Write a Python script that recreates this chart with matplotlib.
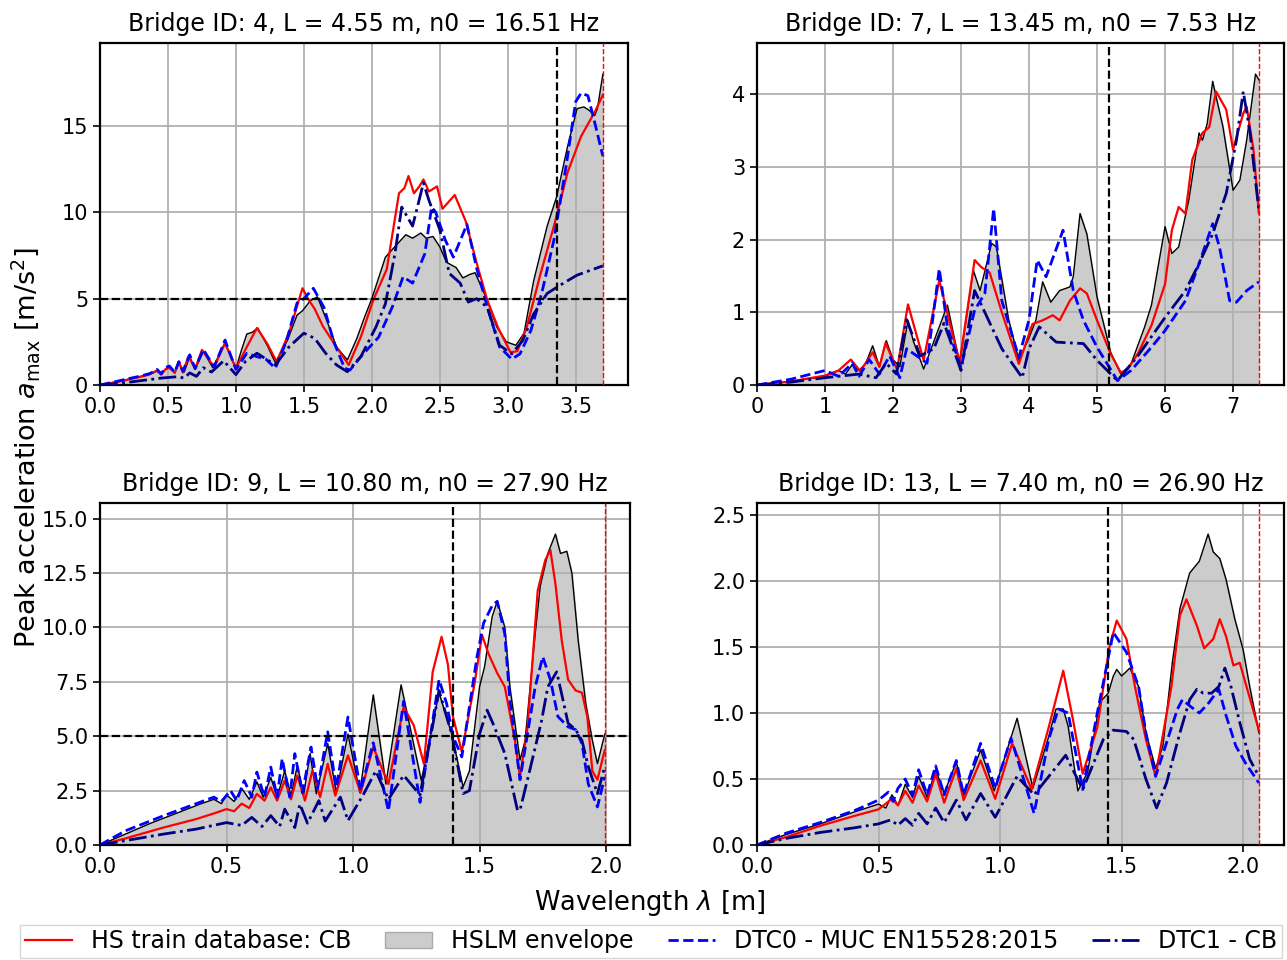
import matplotlib
matplotlib.use('Agg')
import matplotlib.pyplot as plt
from matplotlib.ticker import MultipleLocator
from matplotlib.lines import Line2D
from matplotlib.patches import Patch

plt.rcParams['font.family'] = 'DejaVu Sans'

# ---- Bridge 4 ----
b4_title = 'Bridge ID: 4, L = 4.55 m, n0 = 16.51 Hz'
b4_lam_ref, b4_lam_max = 3.36, 3.70
b4_env_x = [0, 0.1, 0.2, 0.3, 0.36, 0.39, 0.42, 0.45, 0.48, 0.51, 0.55, 0.58, 0.62, 0.66, 0.70, 0.76,
            0.83, 0.92, 1.0, 1.04, 1.08, 1.12, 1.16, 1.23, 1.29, 1.38, 1.45, 1.49, 1.55, 1.60, 1.67, 1.74,
            1.82, 1.89, 1.95, 2.0, 2.05, 2.10, 2.18, 2.25, 2.30, 2.36, 2.40, 2.45, 2.50, 2.55, 2.62, 2.67,
            2.72, 2.76, 2.85, 2.92, 2.99, 3.06, 3.12, 3.19, 3.29, 3.36, 3.44, 3.51, 3.56, 3.60, 3.64, 3.66, 3.70]
b4_env_y = [0, 0.15, 0.32, 0.5, 0.6, 0.7, 0.8, 0.6, 0.9, 1.0, 0.7, 1.3, 0.75, 1.65, 0.9, 1.95,
            1.0, 2.45, 0.95, 2.0, 2.95, 3.05, 3.3, 2.3, 1.3, 2.6, 4.05, 4.3, 4.9, 5.1, 3.7, 2.2,
            1.45, 2.7, 4.0, 5.0, 6.2, 7.4, 8.1, 8.7, 8.5, 8.8, 8.5, 8.6, 8.0, 7.1, 6.8, 6.2,
            6.4, 6.5, 4.9, 3.35, 2.5, 2.3, 3.0, 6.0, 9.2, 10.9, 13.8, 16.0, 16.1, 15.9, 15.6, 16.0, 18.0]
b4_red_x = [0, 0.1, 0.2, 0.3, 0.36, 0.39, 0.42, 0.45, 0.48, 0.51, 0.55, 0.58, 0.61, 0.65, 0.70, 0.75,
            0.84, 0.92, 1.0, 1.08, 1.155, 1.23, 1.30, 1.39, 1.49, 1.53, 1.58, 1.64, 1.74, 1.83, 1.92,
            2.01, 2.11, 2.20, 2.24, 2.27, 2.31, 2.35, 2.38, 2.42, 2.48, 2.52, 2.61, 2.69, 2.77, 2.85,
            2.93, 3.02, 3.07, 3.14, 3.24, 3.34, 3.44, 3.54, 3.64, 3.70]
b4_red_y = [0, 0.14, 0.3, 0.48, 0.6, 0.72, 0.85, 0.6, 0.9, 1.0, 0.7, 1.35, 0.72, 1.65, 0.95, 2.03,
            1.05, 2.42, 0.97, 2.2, 3.3, 2.4, 1.35, 3.0, 5.6, 5.0, 4.4, 3.4, 2.2, 1.16, 2.8,
            4.9, 6.7, 11.1, 11.4, 12.1, 11.1, 11.5, 11.9, 11.2, 11.5, 10.2, 11.0, 9.5, 7.1, 4.9,
            3.3, 1.9, 1.95, 3.35, 6.4, 9.2, 12.3, 14.4, 15.8, 16.8]
b4_dtc0_x = [0, 0.1, 0.2, 0.3, 0.36, 0.39, 0.42, 0.45, 0.48, 0.51, 0.55, 0.58, 0.61, 0.66, 0.70, 0.76,
             0.84, 0.92, 1.0, 1.08, 1.15, 1.22, 1.29, 1.37, 1.45, 1.50, 1.57, 1.65, 1.72, 1.80, 1.84,
             1.92, 2.05, 2.15, 2.23, 2.30, 2.39, 2.44, 2.47, 2.54, 2.60, 2.70, 2.77, 2.85, 2.94, 3.03,
             3.09, 3.17, 3.25, 3.34, 3.43, 3.50, 3.54, 3.59, 3.64, 3.70]
b4_dtc0_y = [0, 0.17, 0.35, 0.52, 0.65, 0.75, 0.9, 0.65, 1.0, 1.1, 0.75, 1.35, 0.8, 1.75, 0.95, 2.05,
             1.05, 2.6, 0.9, 1.84, 1.65, 1.5, 0.97, 2.5, 4.75, 5.0, 5.6, 4.46, 2.5, 0.97, 0.87,
             1.65, 2.77, 4.5, 6.26, 5.9, 7.6, 10.3, 10.0, 8.4, 7.4, 9.3, 6.8, 4.5, 2.2, 1.5,
             1.8, 3.15, 5.3, 8.4, 12.7, 16.4, 16.9, 16.75, 15.2, 13.25]
b4_dtc1_x = [0, 0.15, 0.3, 0.45, 0.57, 0.62, 0.66, 0.71, 0.76, 0.82, 0.91, 1.0, 1.07, 1.155, 1.29,
             1.39, 1.50, 1.58, 1.66, 1.74, 1.82, 1.92, 2.03, 2.10, 2.17, 2.22, 2.30, 2.38, 2.42, 2.50,
             2.57, 2.65, 2.71, 2.77, 2.85, 2.94, 3.03, 3.11, 3.19, 3.29, 3.39, 3.51, 3.70]
b4_dtc1_y = [0, 0.1, 0.25, 0.4, 0.48, 0.4, 0.7, 0.5, 1.0, 0.75, 1.4, 0.6, 1.36, 1.84, 1.16,
             2.2, 3.0, 2.7, 1.84, 1.16, 0.77, 1.65, 3.35, 4.7, 7.6, 10.3, 9.2, 11.7, 10.7, 9.0,
             6.46, 5.9, 4.8, 5.0, 4.5, 2.3, 1.8, 2.57, 4.1, 5.3, 5.8, 6.36, 6.9]

# ---- Bridge 7 ----
b7_title = 'Bridge ID: 7, L = 13.45 m, n0 = 7.53 Hz'
b7_lam_ref, b7_lam_max = 5.17, 7.38
b7_env_x = [0, 0.5, 1.0, 1.2, 1.3, 1.4, 1.5, 1.6, 1.7, 1.8, 1.9, 2.0, 2.1, 2.22, 2.3, 2.45, 2.6, 2.8,
            2.98, 3.18, 3.28, 3.45, 3.52, 3.7, 3.85, 4.0, 4.1, 4.2, 4.32, 4.45, 4.6, 4.65, 4.75, 4.85,
            5.0, 5.2, 5.35, 5.5, 5.7, 5.8, 6.0, 6.1, 6.2, 6.35, 6.5, 6.55, 6.62, 6.7, 6.75, 6.85,
            7.0, 7.1, 7.2, 7.33, 7.38]
b7_env_y = [0, 0.05, 0.12, 0.2, 0.15, 0.28, 0.2, 0.3, 0.54, 0.25, 0.61, 0.35, 0.25, 0.89, 0.6, 0.22, 0.6, 1.1,
            0.29, 1.58, 1.3, 1.95, 1.9, 0.9, 0.34, 0.65, 0.89, 1.42, 1.14, 1.3, 1.35, 1.49, 2.36, 2.08,
            1.21, 0.45, 0.15, 0.29, 0.8, 1.1, 2.18, 1.81, 1.9, 2.55, 3.47, 3.37, 3.6, 4.18, 3.97, 3.56,
            2.68, 2.82, 3.37, 4.28, 4.2]
b7_red_x = [0, 0.5, 1.0, 1.2, 1.38, 1.52, 1.70, 1.8, 1.89, 2.06, 2.22, 2.45, 2.68, 2.98, 3.2, 3.3,
            3.42, 3.6, 3.85, 4.05, 4.2, 4.35, 4.45, 4.6, 4.75, 4.85, 5.0, 5.2, 5.35, 5.45, 5.6, 5.8,
            6.0, 6.1, 6.2, 6.3, 6.4, 6.55, 6.65, 6.75, 6.9, 7.0, 7.15, 7.2, 7.3, 7.38]
b7_red_y = [0, 0.05, 0.13, 0.2, 0.35, 0.19, 0.45, 0.25, 0.58, 0.21, 1.11, 0.34, 1.44, 0.31, 1.72, 1.62,
            1.55, 1.0, 0.29, 0.84, 0.89, 0.96, 0.89, 1.16, 1.33, 1.26, 0.89, 0.43, 0.17, 0.22, 0.43, 0.82,
            1.39, 2.13, 2.45, 2.36, 3.1, 3.47, 3.55, 4.04, 3.79, 3.24, 3.74, 3.83, 3.24, 2.36]
b7_dtc0_x = [0, 0.5, 1.0, 1.2, 1.4, 1.5, 1.65, 1.8, 1.95, 2.1, 2.2, 2.35, 2.5, 2.68, 2.8, 3.0, 3.2,
             3.35, 3.48, 3.6, 3.85, 4.0, 4.12, 4.25, 4.5, 4.65, 4.8, 5.0, 5.3, 5.5, 5.8, 6.0, 6.3,
             6.5, 6.7, 6.8, 6.95, 7.05, 7.2, 7.38]
b7_dtc0_y = [0, 0.08, 0.2, 0.12, 0.3, 0.12, 0.35, 0.15, 0.4, 0.1, 0.5, 0.4, 0.3, 1.6, 0.8, 0.24, 1.03,
             1.26, 2.43, 1.16, 0.38, 0.9, 1.72, 1.49, 2.13, 1.3, 0.89, 0.52, 0.06, 0.2, 0.52, 0.75, 1.16,
             1.67, 2.22, 1.9, 1.16, 1.14, 1.3, 1.42]
b7_dtc1_x = [0, 0.5, 1.0, 1.5, 1.75, 1.9, 2.05, 2.2, 2.4, 2.6, 2.75, 3.0, 3.2, 3.35, 3.6, 3.9, 4.0,
             4.15, 4.4, 4.8, 5.0, 5.3, 5.6, 6.0, 6.3, 6.5, 6.7, 6.9, 7.05, 7.15, 7.25, 7.38]
b7_dtc1_y = [0, 0.04, 0.1, 0.15, 0.1, 0.3, 0.15, 0.9, 0.4, 0.5, 0.85, 0.2, 1.3, 1.0, 0.5, 0.1, 0.5,
             0.8, 0.59, 0.57, 0.34, 0.06, 0.4, 0.93, 1.3, 1.67, 2.08, 2.64, 3.37, 4.04, 3.47, 2.4]

# ---- Bridge 9 ----
b9_title = 'Bridge ID: 9, L = 10.80 m, n0 = 27.90 Hz'
b9_lam_ref, b9_lam_max = 1.395, 1.995
b9_env_x = [0, 0.1, 0.2, 0.3, 0.4, 0.45, 0.48, 0.5, 0.53, 0.56, 0.59, 0.62, 0.645, 0.675, 0.70, 0.73,
            0.755, 0.78, 0.805, 0.83, 0.855, 0.90, 0.934, 0.98, 1.027, 1.08, 1.13, 1.19, 1.27, 1.34,
            1.39, 1.435, 1.46, 1.50, 1.52, 1.55, 1.57, 1.60, 1.62, 1.66, 1.68, 1.72, 1.74, 1.77, 1.80,
            1.82, 1.845, 1.865, 1.89, 1.92, 1.946, 1.966, 1.995]
b9_env_y = [0, 0.5, 1.0, 1.45, 1.9, 2.1, 1.9, 2.3, 2.0, 2.6, 2.1, 2.9, 2.2, 3.1, 2.2, 3.4,
            2.25, 3.66, 2.3, 4.2, 2.35, 4.66, 2.4, 5.1, 2.4, 6.9, 2.8, 7.36, 2.96, 7.0,
            5.1, 2.67, 3.4, 7.27, 8.2, 10.5, 11.2, 10.0, 7.27, 3.9, 4.8, 9.7, 11.9, 13.4, 14.29,
            13.4, 13.5, 12.5, 9.4, 6.5, 4.8, 3.74, 5.1]
b9_red_x = [0, 0.1, 0.25, 0.38, 0.45, 0.5, 0.53, 0.56, 0.59, 0.62, 0.65, 0.675, 0.70, 0.73, 0.755,
            0.78, 0.81, 0.84, 0.87, 0.90, 0.93, 0.98, 1.03, 1.08, 1.14, 1.20, 1.24, 1.28, 1.315, 1.35,
            1.375, 1.395, 1.43, 1.48, 1.51, 1.535, 1.57, 1.60, 1.64, 1.66, 1.69, 1.73, 1.76, 1.78,
            1.80, 1.825, 1.85, 1.88, 1.905, 1.926, 1.946, 1.966, 1.995]
b9_red_y = [0, 0.3, 0.8, 1.19, 1.45, 1.65, 1.55, 1.9, 1.7, 2.35, 2.04, 2.65, 2.04, 2.96, 2.1,
            3.2, 2.04, 3.43, 2.2, 3.73, 2.27, 4.12, 2.4, 4.5, 2.8, 6.35, 5.5, 3.73, 7.96, 9.57,
            8.3, 5.9, 4.28, 7.4, 9.65, 8.8, 7.9, 7.27, 4.8, 3.13, 5.43, 11.7, 13.1, 13.56,
            12.0, 9.4, 7.6, 7.1, 7.0, 5.9, 3.4, 3.0, 4.36]
b9_dtc0_x = [0, 0.1, 0.25, 0.38, 0.45, 0.48, 0.516, 0.54, 0.57, 0.60, 0.62, 0.65, 0.675, 0.70, 0.72,
             0.75, 0.77, 0.80, 0.834, 0.86, 0.90, 0.934, 0.98, 1.03, 1.08, 1.14, 1.20, 1.265, 1.34,
             1.37, 1.395, 1.43, 1.49, 1.516, 1.55, 1.57, 1.60, 1.62, 1.66, 1.72, 1.75, 1.78, 1.81,
             1.85, 1.88, 1.905, 1.93, 1.966, 1.995]
b9_dtc0_y = [0, 0.65, 1.34, 1.9, 2.2, 2.0, 2.5, 2.04, 2.96, 2.2, 3.35, 2.2, 3.58, 2.2, 3.97,
             2.2, 4.2, 2.4, 4.5, 2.6, 5.2, 2.65, 5.88, 2.5, 4.7, 1.57, 6.6, 1.96, 7.6,
             6.5, 5.0, 4.05, 8.65, 10.2, 11.0, 11.2, 9.7, 6.66, 3.0, 7.27, 8.65, 7.6, 5.9,
             5.43, 5.3, 4.66, 2.8, 1.75, 3.13]
b9_dtc1_x = [0, 0.1, 0.25, 0.38, 0.5, 0.56, 0.6, 0.64, 0.675, 0.71, 0.73, 0.77, 0.79, 0.82, 0.865,
             0.89, 0.95, 0.98, 1.04, 1.09, 1.14, 1.2, 1.265, 1.34, 1.39, 1.435, 1.46, 1.50, 1.53,
             1.56, 1.60, 1.65, 1.66, 1.70, 1.745, 1.77, 1.805, 1.83, 1.85, 1.88, 1.905, 1.93, 1.966, 1.995]
b9_dtc1_y = [0, 0.2, 0.5, 0.73, 1.03, 0.9, 1.27, 0.85, 1.35, 0.85, 1.65, 0.8, 1.88, 1.0, 2.04,
             1.1, 2.2, 1.12, 2.3, 3.4, 2.1, 3.2, 2.3, 7.1, 5.1, 2.36, 2.5, 5.1, 6.2,
             5.4, 4.2, 1.6, 1.6, 3.5, 5.7, 7.27, 7.96, 6.66, 5.6, 5.3, 4.8, 3.6, 2.36, 3.6]

# ---- Bridge 13 ----
b13_title = 'Bridge ID: 13, L = 7.40 m, n0 = 26.90 Hz'
b13_lam_ref, b13_lam_max = 1.445, 2.065
b13_env_x = [0, 0.12, 0.26, 0.40, 0.5, 0.53, 0.555, 0.58, 0.61, 0.64, 0.665, 0.70, 0.735, 0.77, 0.82,
             0.85, 0.92, 0.976, 1.07, 1.135, 1.2, 1.23, 1.26, 1.28, 1.32, 1.36, 1.41, 1.445, 1.466,
             1.48, 1.50, 1.534, 1.57, 1.60, 1.64, 1.67, 1.71, 1.74, 1.78, 1.82, 1.856, 1.877, 1.904,
             1.93, 1.966, 2.0, 2.027, 2.065]
b13_env_y = [0, 0.08, 0.16, 0.25, 0.31, 0.28, 0.38, 0.3, 0.46, 0.36, 0.52, 0.36, 0.57, 0.39, 0.63,
             0.375, 0.72, 0.41, 0.96, 0.43, 0.82, 1.03, 1.03, 0.9, 0.41, 0.55, 1.08, 1.15, 1.28,
             1.33, 1.28, 1.34, 1.2, 0.85, 0.58, 0.75, 1.4, 1.79, 2.06, 2.15, 2.355, 2.22, 2.17,
             2.01, 1.71, 1.48, 1.2, 0.85]
b13_red_x = [0, 0.12, 0.26, 0.40, 0.5, 0.555, 0.58, 0.61, 0.64, 0.665, 0.70, 0.735, 0.77, 0.82, 0.85,
             0.92, 0.98, 1.05, 1.13, 1.2, 1.26, 1.30, 1.34, 1.4, 1.45, 1.48, 1.52, 1.555, 1.60, 1.64,
             1.705, 1.74, 1.767, 1.81, 1.84, 1.877, 1.904, 1.93, 1.96, 1.986, 2.014, 2.065]
b13_red_y = [0, 0.06, 0.145, 0.22, 0.27, 0.35, 0.3, 0.41, 0.32, 0.45, 0.33, 0.54, 0.32, 0.58, 0.34,
             0.64, 0.35, 0.77, 0.42, 0.89, 1.32, 0.95, 0.54, 0.89, 1.5, 1.70, 1.56, 1.2, 0.8, 0.52,
             1.2, 1.74, 1.86, 1.66, 1.49, 1.56, 1.71, 1.58, 1.36, 1.38, 1.2, 0.87]
b13_dtc0_x = [0, 0.12, 0.26, 0.40, 0.5, 0.54, 0.56, 0.58, 0.61, 0.64, 0.665, 0.70, 0.735, 0.77, 0.82,
              0.85, 0.92, 0.98, 1.045, 1.14, 1.2, 1.24, 1.28, 1.34, 1.40, 1.466, 1.52, 1.57, 1.60,
              1.64, 1.73, 1.75, 1.79, 1.82, 1.86, 1.90, 1.93, 1.97, 2.01, 2.065]
b13_dtc0_y = [0, 0.09, 0.17, 0.26, 0.34, 0.40, 0.33, 0.43, 0.50, 0.375, 0.57, 0.38, 0.60, 0.38, 0.64,
              0.38, 0.77, 0.43, 0.81, 0.24, 0.8, 1.03, 1.0, 0.42, 1.0, 1.61, 1.46, 1.2, 0.85,
              0.52, 1.03, 1.1, 1.04, 1.0, 1.08, 1.18, 0.98, 0.75, 0.62, 0.47]
b13_dtc1_x = [0, 0.12, 0.26, 0.40, 0.5, 0.55, 0.58, 0.61, 0.64, 0.665, 0.70, 0.735, 0.77, 0.82, 0.86,
              0.92, 0.98, 1.07, 1.14, 1.27, 1.34, 1.425, 1.466, 1.52, 1.55, 1.60, 1.644, 1.685, 1.74,
              1.78, 1.81, 1.836, 1.87, 1.90, 1.925, 1.95, 1.986, 2.027, 2.065]
b13_dtc1_y = [0, 0.05, 0.095, 0.13, 0.16, 0.19, 0.15, 0.2, 0.15, 0.24, 0.16, 0.28, 0.17, 0.34, 0.19,
              0.39, 0.21, 0.52, 0.38, 0.68, 0.42, 0.8, 0.87, 0.86, 0.8, 0.5, 0.28, 0.47, 0.85,
              1.1, 1.18, 1.15, 1.15, 1.2, 1.34, 1.2, 0.93, 0.65, 0.52]

acc_limit = 5.0

W, H = 1287, 960
fig = plt.figure(figsize=(W / 100, H / 100), dpi=100)


def box(x0, y0, x1, y1):
    # pixel box -> figure fraction [left, bottom, width, height]
    return [x0 / W, 1 - y1 / H, (x1 - x0) / W, (y1 - y0) / H]


def draw_bridge(ax, title, env_x, env_y, red_x, red_y, d0_x, d0_y, d1_x, d1_y,
                lam_ref, lam_max, xstep, ystep):
    ax.fill_between(env_x, env_y, 0, color='#cccccc', zorder=1)
    ax.plot(env_x, env_y, color='k', lw=1.0, zorder=2)
    ax.plot(red_x, red_y, color='r', lw=1.6, zorder=3)
    ax.plot(d0_x, d0_y, color='b', ls='--', lw=2.0, zorder=4)
    ax.plot(d1_x, d1_y, color='#000080', ls='-.', lw=2.0, zorder=4)
    ax.axhline(acc_limit, color='k', ls='--', lw=1.6, zorder=5)
    ax.axvline(lam_ref, color='k', ls='--', lw=1.6, zorder=5)
    ax.axvline(lam_max, color='r', ls='--', lw=1.0, zorder=5)
    ax.set_xlim(0, 1.05 * lam_max)
    ax.set_ylim(0, 1.1 * max(env_y))
    ax.xaxis.set_major_locator(MultipleLocator(xstep))
    ax.yaxis.set_major_locator(MultipleLocator(ystep))
    ax.grid(True, color='#b0b0b0', lw=1.3)
    ax.set_title(title, fontsize=17, pad=9)
    ax.tick_params(labelsize=15, width=1.2, length=5)
    for s in ax.spines.values():
        s.set_linewidth(1.6)


ax1 = fig.add_axes(box(100, 43, 628, 385))
ax2 = fig.add_axes(box(757, 43, 1284, 385))
ax3 = fig.add_axes(box(100, 503, 630, 845))
ax4 = fig.add_axes(box(757, 503, 1284, 845))

draw_bridge(ax1, b4_title, b4_env_x, b4_env_y, b4_red_x, b4_red_y, b4_dtc0_x, b4_dtc0_y,
            b4_dtc1_x, b4_dtc1_y, b4_lam_ref, b4_lam_max, 0.5, 5)
draw_bridge(ax2, b7_title, b7_env_x, b7_env_y, b7_red_x, b7_red_y, b7_dtc0_x, b7_dtc0_y,
            b7_dtc1_x, b7_dtc1_y, b7_lam_ref, b7_lam_max, 1, 1)
draw_bridge(ax3, b9_title, b9_env_x, b9_env_y, b9_red_x, b9_red_y, b9_dtc0_x, b9_dtc0_y,
            b9_dtc1_x, b9_dtc1_y, b9_lam_ref, b9_lam_max, 0.5, 2.5)
draw_bridge(ax4, b13_title, b13_env_x, b13_env_y, b13_red_x, b13_red_y, b13_dtc0_x, b13_dtc0_y,
            b13_dtc1_x, b13_dtc1_y, b13_lam_ref, b13_lam_max, 0.5, 0.5)

fig.text(0.505, 1 - 903 / H, r'Wavelength $\lambda$ [m]', ha='center', va='center', fontsize=18.5)
fig.text(0.02, 1 - 448 / H, r'Peak acceleration $a_{\rm max}$ [m/s$^2$]', ha='center', va='center',
         rotation=90, fontsize=19.5)

handles = [Line2D([], [], color='r', lw=1.6),
           Patch(facecolor='#cccccc', edgecolor='#aaaaaa'),
           Line2D([], [], color='b', ls='--', lw=2.0),
           Line2D([], [], color='#000080', ls='-.', lw=2.0)]
labels = ['HS train database: CB', 'HSLM envelope', 'DTC0 - MUC EN15528:2015', 'DTC1 - CB']
fig.legend(handles, labels, loc='lower left', ncol=4, mode='expand', fontsize=17,
           bbox_to_anchor=(20 / W, 2 / H, 1262 / W, 36 / H), borderaxespad=0, fancybox=False,
           edgecolor='#cccccc', handlelength=2.0, borderpad=0.2)

fig.savefig('out.png', dpi=100)
